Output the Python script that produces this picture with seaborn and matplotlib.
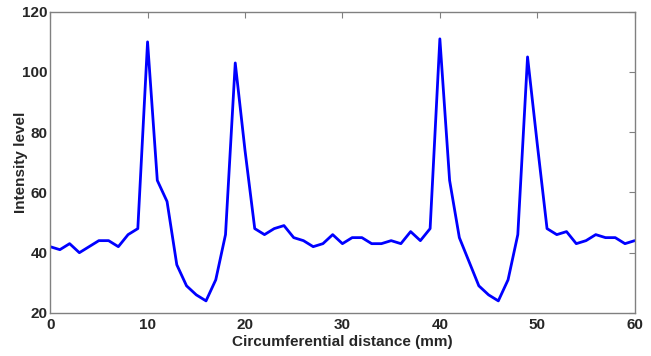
import numpy as np
import pandas as pd
import matplotlib
matplotlib.use('Agg')
import matplotlib.pyplot as plt
import seaborn as sns

# Intensity profile, one sample per mm
distance = list(range(0, 61))
intensity = [42, 41, 43, 40, 42, 44, 44, 42, 46, 48,
             110, 64, 57, 36, 29, 26, 24, 31, 46, 103,
             74, 48, 46, 48, 49, 45, 44, 42, 43, 46,
             43, 45, 45, 43, 43, 44, 43, 47, 44, 48,
             111, 64, 45, 37, 29, 26, 24, 31, 46, 105,
             76, 48, 46, 47, 43, 44, 46, 45, 45, 43,
             44]

x_ticks = [0, 10, 20, 30, 40, 50, 60]
y_ticks = [20, 40, 60, 80, 100, 120]

df = pd.DataFrame({'distance': distance, 'intensity': intensity})

sns.set_style('white')
plt.rcParams['font.family'] = ['Liberation Sans', 'DejaVu Sans']

fig = plt.figure(figsize=(6.51, 3.56), dpi=100)
ax = fig.add_axes([0.077, 0.121, 0.898, 0.846])

sns.lineplot(data=df, x='distance', y='intensity', color='#0000ff', linewidth=2.0, ax=ax)

ax.set_xlim(0, 60)
ax.set_ylim(20, 120)
ax.set_xticks(x_ticks)
ax.set_yticks(y_ticks)
ax.tick_params(direction='in', length=4, color='#808080', top=True, right=True,
               labelsize=11)
ax.tick_params(axis='x', pad=4)
ax.tick_params(axis='y', pad=2)
for lab in ax.get_xticklabels() + ax.get_yticklabels():
    lab.set_fontweight('bold')
for sp in ax.spines.values():
    sp.set_color('#808080')
    sp.set_linewidth(1.0)

ax.set_xlabel('Circumferential distance (mm)', fontsize=11, fontweight='bold', labelpad=2)
ax.set_ylabel('Intensity level', fontsize=11, fontweight='bold')
ax.yaxis.set_label_coords(-0.037, 0.5)

plt.savefig('out.png', dpi=100)
